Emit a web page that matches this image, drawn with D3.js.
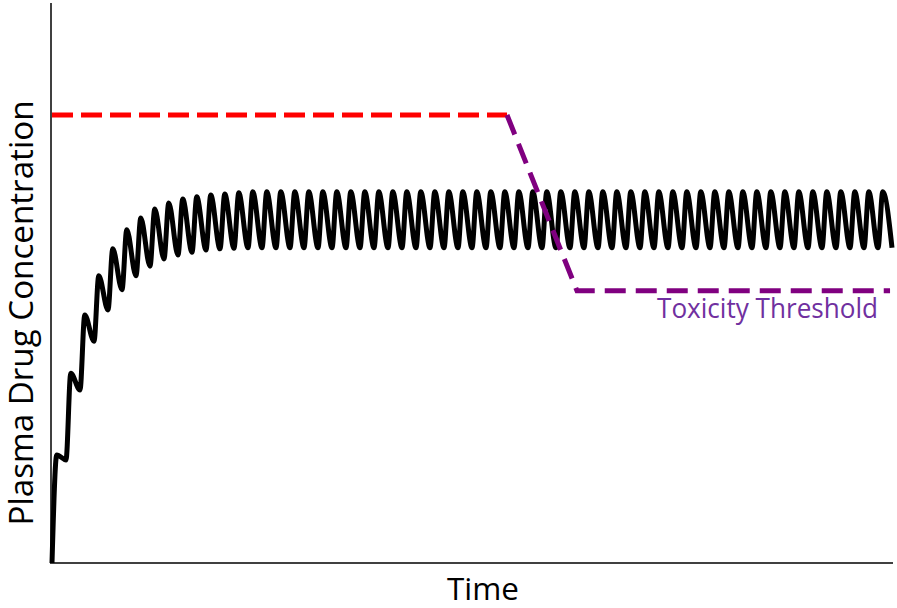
<!DOCTYPE html>
<html>
<head>
<meta charset="utf-8">
<script src="https://cdn.jsdelivr.net/npm/d3@7"></script>
<style>
  html, body { margin: 0; padding: 0; background: #fff; }
  svg { display: block; }
</style>
</head>
<body>
<svg id="chart" width="897" height="608"></svg>
<script>
// Concentration at each peak after a dose (arbitrary units)
const peaks = [
  19.3, 33.9, 44.3, 51.3, 56.1, 59.5, 61.6, 63.2, 64.3, 65.0,
  65.4, 65.7, 65.9, 66.1, 66.3, 66.3, 66.3, 66.3, 66.3, 66.3,
  66.3, 66.3, 66.3, 66.3, 66.3, 66.3, 66.3, 66.3, 66.3, 66.3,
  66.3, 66.3, 66.3, 66.3, 66.3, 66.3, 66.3, 66.3, 66.3, 66.3,
  66.3, 66.3, 66.3, 66.3, 66.3, 66.3, 66.3, 66.3, 66.3, 66.3,
  66.3, 66.3, 66.3, 66.3, 66.3, 66.3, 66.3, 66.3, 66.3, 66.3
];

// Concentration just before the next dose (trough)
const troughs = [
  18.4, 30.9, 39.6, 45.2, 48.8, 51.3, 53.0, 54.3, 55.0, 55.5,
  55.9, 56.1, 56.2, 56.3, 56.3, 56.3, 56.3, 56.3, 56.3, 56.3,
  56.3, 56.3, 56.3, 56.3, 56.3, 56.3, 56.3, 56.3, 56.3, 56.3,
  56.3, 56.3, 56.3, 56.3, 56.3, 56.3, 56.3, 56.3, 56.3, 56.3,
  56.3, 56.3, 56.3, 56.3, 56.3, 56.3, 56.3, 56.3, 56.3, 56.3,
  56.3, 56.3, 56.3, 56.3, 56.3, 56.3, 56.3, 56.3, 56.3, 56.3
];

// time to peak, as a fraction of the dosing interval
const timeToPeak = 0.34;

// toxicity threshold: [time, concentration]
const oldThreshold = [[0, 80], [32.5, 80]];
const newThreshold = [[32.5, 80], [37.5, 48.6], [59.86, 48.6]];

const svg = d3.select("#chart");

const x = d3.scaleLinear().domain([0, 60]).range([52, 892]);
const y = d3.scaleLinear().domain([0, 100]).range([563, 3]);

// axes (no ticks)
svg.append("line")
  .attr("x1", 51).attr("x2", 51)
  .attr("y1", 3).attr("y2", 564)
  .attr("stroke", "#404040").attr("stroke-width", 2);
svg.append("line")
  .attr("x1", 50).attr("x2", 893)
  .attr("y1", 563).attr("y2", 563)
  .attr("stroke", "#404040").attr("stroke-width", 2);

// build concentration-time points from peaks and troughs
const conc = [[0, 0]];
peaks.forEach((p, k) => {
  conc.push([k + timeToPeak, p]);
  conc.push([k + 1, troughs[k]]);
});

const line = d3.line()
  .x(d => x(d[0]))
  .y(d => y(d[1]));

svg.append("path")
  .datum(conc)
  .attr("fill", "none")
  .attr("stroke", "#000")
  .attr("stroke-width", 5)
  .attr("stroke-linejoin", "round")
  .attr("d", line.curve(d3.curveMonotoneX));

const straight = d3.line()
  .x(d => x(d[0]))
  .y(d => y(d[1]));

svg.append("path")
  .datum(oldThreshold)
  .attr("fill", "none")
  .attr("stroke", "#ff0000")
  .attr("stroke-width", 5)
  .attr("stroke-dasharray", "21,8")
  .attr("d", straight);

svg.append("path")
  .datum(newThreshold)
  .attr("fill", "none")
  .attr("stroke", "#800080")
  .attr("stroke-width", 5)
  .attr("stroke-dasharray", "21,10")
  .attr("d", straight);

// labels
svg.append("text")
  .attr("x", 657).attr("y", 318)
  .attr("font-family", "'Open Sans', sans-serif")
  .attr("font-size", 27)
  .attr("fill", "#7030a0")
  .attr("textLength", 221)
  .attr("lengthAdjust", "spacingAndGlyphs")
  .text("Toxicity Threshold");

svg.append("text")
  .attr("x", 483).attr("y", 600)
  .attr("text-anchor", "middle")
  .attr("font-family", "'Open Sans', sans-serif")
  .attr("font-size", 31)
  .attr("fill", "#000")
  .attr("textLength", 72)
  .attr("lengthAdjust", "spacingAndGlyphs")
  .text("Time");

svg.append("text")
  .attr("transform", "translate(33,313) rotate(-90)")
  .attr("text-anchor", "middle")
  .attr("font-family", "'Open Sans', sans-serif")
  .attr("font-size", 32)
  .attr("fill", "#000")
  .attr("textLength", 425)
  .attr("lengthAdjust", "spacingAndGlyphs")
  .text("Plasma Drug Concentration");
</script>
</body>
</html>
